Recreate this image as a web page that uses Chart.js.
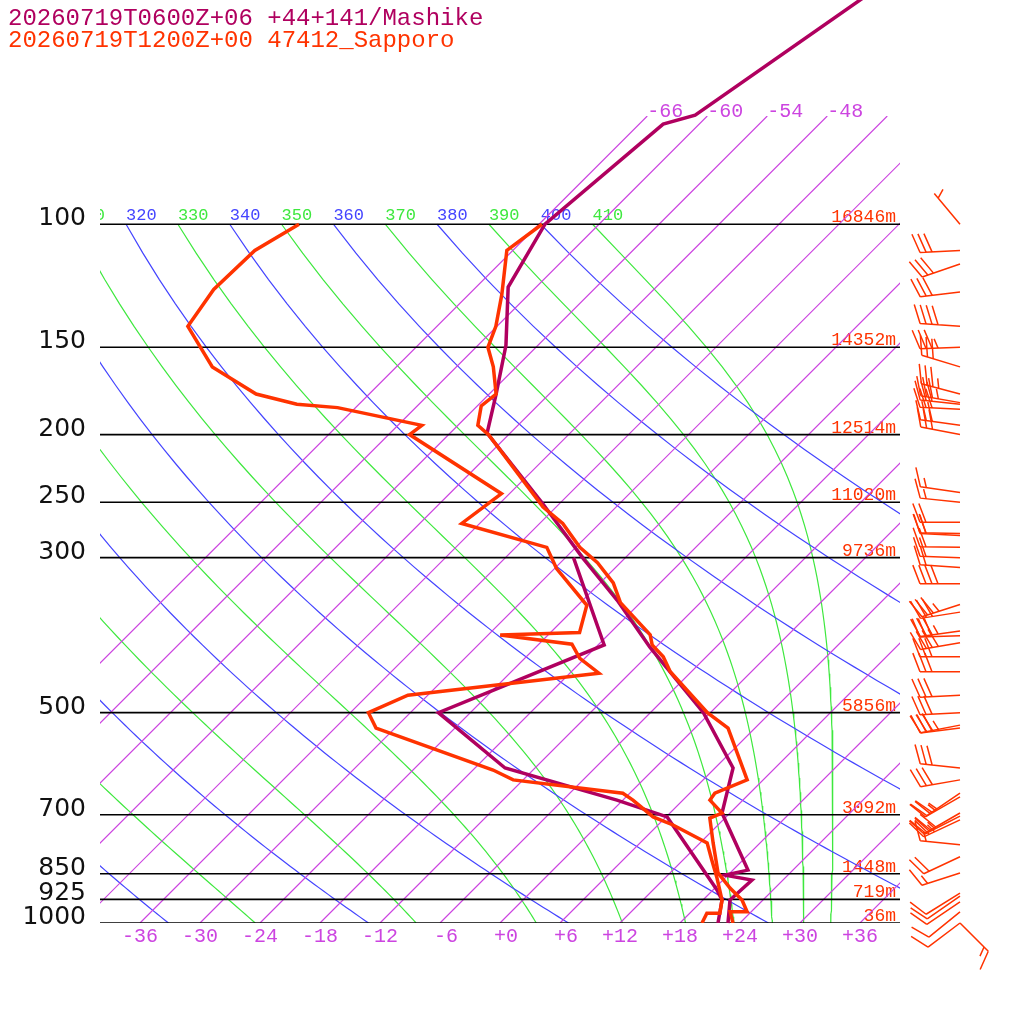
<!DOCTYPE html>
<html>
<head>
<meta charset="utf-8">
<script src="https://cdn.jsdelivr.net/npm/chart.js@4.4.1/dist/chart.umd.min.js"></script>
<style>
  html, body { margin: 0; padding: 0; background: #fff; }
</style>
</head>
<body>
<canvas id="skewt" width="1024" height="1024"></canvas>
<script>
// titres des deux sondages
const titleLines = ['20260719T0600Z+06 +44+141/Mashike', '20260719T1200Z+00 47412_Sapporo'];

// niveaux de pression et altitudes (Sapporo)
const presLevels = [100, 150, 200, 250, 300, 500, 700, 850, 925, 1000];
const heightLabels = ['16846m', '14352m', '12514m', '11020m', '9736m', '5856m', '3092m', '1448m', '719m', '36m'];

// graduations et lignes de fond
const tempTicks = [-36, -30, -24, -18, -12, -6, 0, 6, 12, 18, 24, 30, 36];
const isotherms = [-66, -60, -54, -48, -42, -36, -30, -24, -18, -12, -6, 0, 6, 12, 18, 24, 30, 36];
const isoLabels = [-66, -60, -54, -48];
const dryTheta = [240, 260, 280, 300, 320, 340, 360, 380, 400];
const moistTheta = [250, 270, 290, 310, 330, 350, 370, 390, 410];

// Sapporo 12Z : temperature
const sapTP = [100, 109, 126, 140, 150, 160, 175, 182, 194, 200, 254, 268, 290, 305, 326, 348, 387, 400, 416, 437, 500, 526, 624, 652, 667, 696, 708, 768, 848, 891, 927, 964, 964, 1000];
const sapTC = [-65.7, -66.6, -62.7, -60.1, -58.8, -56.3, -53.3, -53.6, -52.0, -50.0, -37.3, -33.7, -29.6, -26.3, -22.7, -20.0, -13.8, -12.6, -10.3, -8.1, -0.3, 3.3, 10.4, 8.5, 8.7, 11.2, 10.5, 13.3, 16.8, 19.5, 21.9, 23.6, 21.9, 23.3];
// Sapporo 12Z : point de rosee
const sapDP = [100, 109, 124, 140, 160, 175, 181, 183, 194, 200, 243, 268, 290, 311, 351, 384, 387, 399, 418, 439, 472, 500, 526, 604, 624, 652, 667, 705, 724, 768, 813, 860, 927, 968, 968, 1000];
const sapDC = [-90.0, -91.8, -92.0, -90.9, -84.4, -77.3, -72.2, -67.8, -57.6, -57.9, -42.8, -43.8, -32.9, -29.8, -23.1, -21.1, -28.8, -20.7, -18.5, -15.1, -32.0, -34.2, -31.9, -16.0, -13.0, -0.7, 1.0, 4.7, 7.5, 12.7, 14.9, 17.1, 19.9, 21.0, 19.7, 20.2];

// Mashike 06Z+06 : temperature
const mshTP = [40, 69.8, 71.9, 100, 123, 149, 175, 199, 251, 300, 345, 403, 460, 500, 600, 696, 840, 854, 868, 927, 1000];
const mshTC = [-54.0, -61.3, -63.6, -65.4, -62.8, -57.2, -53.3, -50.3, -37.7, -28.3, -20.6, -12.6, -5.3, -0.7, 7.8, 11.2, 19.5, 17.7, 20.9, 20.7, 22.8];
// Mashike : point de rosee
const mshDP = [300, 400, 500, 600, 667, 705, 897, 927, 1000];
const mshDC = [-29.2, -17.4, -27.2, -15.0, -0.6, 6.1, 18.4, 19.9, 21.8];

// vent (Sapporo) : pression, direction, vitesse en noeuds
const windP = [100, 109, 114, 125, 140, 150, 160, 175, 180, 181, 184, 194, 200, 242, 250, 267, 277, 279, 290, 300, 310, 327, 350, 359, 382, 388, 397, 416, 437, 472, 500, 521, 526, 600, 624, 652, 660, 696, 703, 712, 773, 804, 848, 906, 915, 933, 964, 1000, 1000];
const windDir = [320, 267, 251, 263, 274, 268, 287, 285, 280, 276, 273, 278, 281, 278, 276, 270, 271, 273, 271, 272, 274, 270, 252, 261, 262, 268, 260, 270, 270, 267, 267, 259, 263, 276, 260, 236, 240, 240, 243, 245, 276, 245, 252, 238, 235, 236, 231, 233, 135];
const windKt = [5, 30, 30, 30, 40, 35, 30, 35, 35, 30, 30, 30, 30, 15, 15, 20, 20, 20, 20, 20, 20, 40, 35, 30, 35, 30, 40, 30, 30, 30, 30, 35, 30, 30, 30, 25, 25, 30, 25, 25, 15, 20, 15, 10, 10, 10, 10, 10, 15];

const MSH = '#b0005f';
const SAP = '#ff3300';
const ISO = '#cc44e0';
const DRY = '#4444ff';
const WET = '#3ee83e';
const TOP_P = 70;
const SKEW = 69.9;
const KAPPA = 287.04 / 1005.7;

const skewX = (t, p) => t + SKEW * Math.log10(1000 / p);
const profile = (ps, ts) => ps.map((p, i) => ({ x: skewX(ts[i], p), y: p }));

// adiabatique seche
function dryLine(theta) {
    const pts = [];
    for (let p = 1000; p >= 100; p -= 10) {
        pts.push({ x: skewX(theta * Math.pow(p / 1000, KAPPA) - 273.15, p), y: p });
    }
    return pts;
}

// pseudo-adiabatique, integree depuis 100 hPa vers le sol
function moistLine(theta) {
    const Rd = 287.04, cp = 1005.7, L = 2.501e6, eps = 0.622;
    const rate = (T, p) => {
        const tc = T - 273.15;
        const es = 6.112 * Math.exp(17.67 * tc / (tc + 243.5));
        const rs = eps * es / (p - es);
        return (Rd * T + L * rs) / (cp + L * L * rs * eps / (Rd * T * T)) / p;
    };
    let T = theta * Math.pow(0.1, KAPPA);
    const dp = 5;
    const pts = [];
    for (let p = 100; p <= 1000; p += dp) {
        if (p % 10 === 0) pts.push({ x: skewX(T - 273.15, p), y: p });
        const k1 = rate(T, p);
        const k2 = rate(T + dp / 2 * k1, p + dp / 2);
        const k3 = rate(T + dp / 2 * k2, p + dp / 2);
        const k4 = rate(T + dp * k3, p + dp);
        T += dp / 6 * (k1 + 2 * k2 + 2 * k3 + k4);
    }
    return pts;
}

function lineSet(data, color, width, order, clip) {
    const ds = { data, borderColor: color, borderWidth: width, pointRadius: 0, fill: false, tension: 0, order };
    if (clip !== undefined) ds.clip = clip;
    return ds;
}

const datasets = [];
datasets.push(lineSet(profile(sapTP, sapTC), SAP, 3.5, 0));
datasets.push(lineSet(profile(sapDP, sapDC), SAP, 3.5, 0));
datasets.push(lineSet(profile(mshTP, mshTC), MSH, 3.5, 1, false));
datasets.push(lineSet(profile(mshDP, mshDC), MSH, 3.5, 1));
presLevels.forEach(p => datasets.push(lineSet([{ x: -40, y: p }, { x: 40, y: p }], '#000', 1.6, 5)));
isotherms.forEach(t => datasets.push(lineSet([{ x: skewX(t, 1000), y: 1000 }, { x: skewX(t, TOP_P), y: TOP_P }], ISO, 1.2, 8)));
dryTheta.forEach(th => datasets.push(lineSet(dryLine(th), DRY, 1.2, 9)));
moistTheta.forEach(th => datasets.push(lineSet(moistLine(th), WET, 1.2, 9)));

function fmtTick(t) {
    return t >= 0 ? '+' + t : String(t);
}

function drawBarb(ctx, x0, y0, dir, kt) {
    const r = dir * Math.PI / 180;
    const ux = Math.sin(r), uy = -Math.cos(r);
    const a = 69 * Math.PI / 180;
    const bx = ux * Math.cos(a) - uy * Math.sin(a);
    const by = ux * Math.sin(a) + uy * Math.cos(a);
    const staff = 40;
    ctx.beginPath();
    ctx.moveTo(x0, y0);
    ctx.lineTo(x0 + ux * staff, y0 + uy * staff);
    const n = Math.round(kt / 5);
    const full = Math.floor(n / 2);
    const half = n % 2;
    let pos = staff;
    if (full === 0 && half) pos = staff - 6;
    for (let i = 0; i < full; i++) {
        const sx = x0 + ux * pos, sy = y0 + uy * pos;
        ctx.moveTo(sx, sy);
        ctx.lineTo(sx + bx * 20, sy + by * 20);
        pos -= 6;
    }
    if (half) {
        const sx = x0 + ux * pos, sy = y0 + uy * pos;
        ctx.moveTo(sx, sy);
        ctx.lineTo(sx + bx * 10, sy + by * 10);
    }
    ctx.stroke();
}

const decor = {
    id: 'decor',
    beforeDatasetsDraw(chart) {
        const { ctx, chartArea: area, scales: { x, y } } = chart;
        ctx.save();
        ctx.textBaseline = 'alphabetic';

        ctx.font = '24px "Liberation Mono"';
        ctx.textAlign = 'left';
        ctx.fillStyle = MSH;
        ctx.fillText(titleLines[0], 8, 25);
        ctx.fillStyle = SAP;
        ctx.fillText(titleLines[1], 8, 47);

        ctx.font = '25px "DejaVu Sans"';
        ctx.textAlign = 'right';
        ctx.fillStyle = '#111';
        presLevels.forEach(p => ctx.fillText(String(p), area.left - 14, y.getPixelForValue(p) + 1));

        ctx.font = '18px "Liberation Mono"';
        ctx.fillStyle = SAP;
        presLevels.forEach((p, i) => ctx.fillText(heightLabels[i], area.right - 4, y.getPixelForValue(p) - 2));

        ctx.font = '20px "Liberation Mono"';
        ctx.fillStyle = ISO;
        tempTicks.forEach(t => ctx.fillText(fmtTick(t), x.getPixelForValue(t) + 18, area.bottom + 19));
        ctx.textAlign = 'left';
        isoLabels.forEach(t => ctx.fillText(String(t), x.getPixelForValue(skewX(t, TOP_P)), area.top + 1));

        // etiquettes des adiabatiques, coupees au bord du cadre
        ctx.beginPath();
        ctx.rect(area.left, 0, area.right - area.left, chart.height);
        ctx.clip();
        ctx.font = '17px "Liberation Mono"';
        const y100 = y.getPixelForValue(100) - 4;
        const all = dryTheta.map(th => [th, DRY]).concat(moistTheta.map(th => [th, WET]));
        all.forEach(([th, col]) => {
            const t100 = th * Math.pow(0.1, KAPPA) - 273.15;
            ctx.fillStyle = col;
            ctx.fillText(String(th), x.getPixelForValue(skewX(t100, 100)), y100);
        });
        ctx.restore();
    },
    afterDatasetsDraw(chart) {
        const { ctx, chartArea: area, scales: { y } } = chart;
        ctx.save();
        ctx.strokeStyle = SAP;
        ctx.lineWidth = 1.5;
        windP.forEach((p, i) => drawBarb(ctx, area.right + 60, y.getPixelForValue(p), windDir[i], windKt[i]));
        ctx.restore();
    }
};

new Chart(document.getElementById('skewt'), {
    type: 'line',
    data: { datasets },
    options: {
        responsive: false,
        animation: false,
        devicePixelRatio: 1,
        events: [],
        layout: { padding: { left: 100, right: 124, top: 116, bottom: 101 } },
        scales: {
            x: { type: 'linear', min: -40, max: 40, display: false },
            y: { type: 'logarithmic', min: TOP_P, max: 1000, reverse: true, display: false }
        },
        plugins: {
            legend: { display: false },
            tooltip: { enabled: false }
        }
    },
    plugins: [decor]
});
</script>
</body>
</html>
